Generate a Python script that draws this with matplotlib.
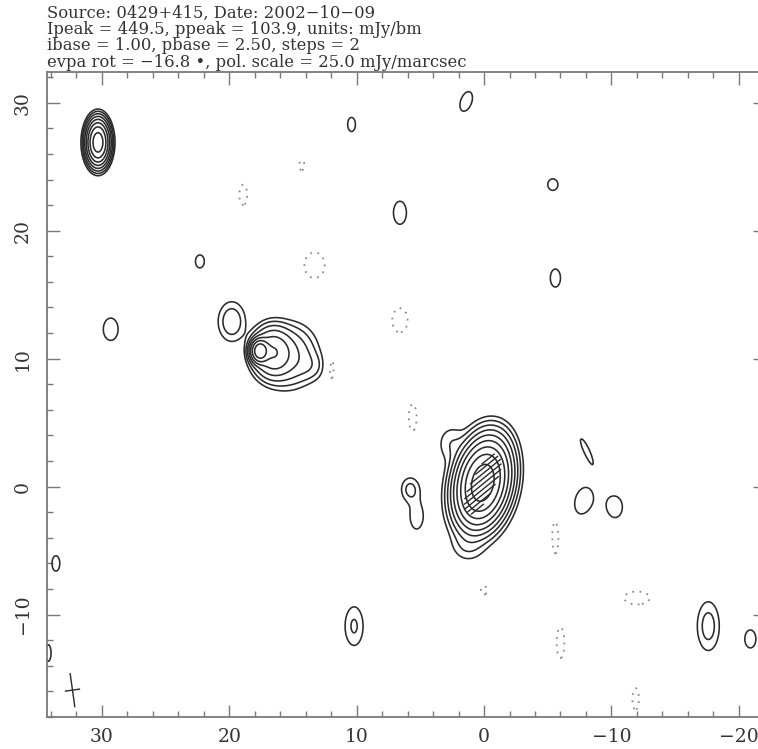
import numpy as np
import matplotlib
matplotlib.use("Agg")
import matplotlib.pyplot as plt
from matplotlib.ticker import MultipleLocator

# header lines written above the map
header = [
    "Source: 0429+415, Date: 2002\u221210\u221209",
    "Ipeak = 449.5, ppeak = 103.9, units: mJy/bm",
    "ibase = 1.00, pbase = 2.50, steps = 2",
    "evpa rot = \u221216.8 \u2022, pol. scale = 25.0 mJy/marcsec",
]

# contour levels in mJy/beam: ibase * steps**k, plus the first negative one
pos_levels = [1, 2, 4, 8, 16, 32, 64, 128, 256]
neg_levels = [-1]

# clean components: offset x (mas), offset y (mas), amplitude (mJy/bm),
# sigma along x, sigma along y (mas), rotation (deg)
comp_x = [0.1, 0.2, 2.6, -0.6, 1.3,                     # core region
          5.8, 5.3,                                     # knot east of core
          17.6, 16.6, 15.2, 13.6, 19.8,                 # north-east jet knot
          30.3, 29.3,                                   # far north-east knot
          10.4, 1.4, 6.6, -5.4, -5.6, 22.3, -8.0, -7.8, -10.3,
          10.2, -17.6, -20.9, 33.6, 34.2]
comp_y = [0.3, 0.0, 3.4, 3.6, -4.6,
          -0.2, -2.3,
          10.6, 10.5, 10.2, 9.4, 12.9,
          26.9, 12.3,
          28.3, 30.1, 21.4, 23.6, 16.3, 17.6, 2.9, -1.1, -1.6,
          -10.9, -10.9, -11.9, -6.0, -13.0]
comp_amp = [420, 3.0, 1.6, 1.5, 1.5,
            2.4, 1.5,
            110, 30, 8, 2.0, 3.3,
            200, 1.3,
            1.3, 1.3, 1.3, 1.3, 1.3, 1.3, 1.2, 1.3, 1.3,
            2.2, 2.7, 1.3, 1.3, 1.3]
comp_sx = [0.85, 1.6, 0.7, 0.9, 0.8,
           0.5, 0.55,
           0.35, 0.8, 1.1, 0.7, 0.69,
           0.41, 0.8,
           0.42, 0.6, 0.7, 0.55, 0.55, 0.48, 0.35, 0.9, 0.76,
           0.56, 0.61, 0.6, 0.42, 0.3]
comp_sy = [1.45, 2.6, 0.9, 0.9, 0.8,
           0.65, 1.1,
           0.45, 1.0, 1.3, 0.7, 1.0,
           0.8, 1.2,
           0.76, 1.1, 1.24, 0.62, 0.97, 0.7, 1.5, 1.45, 1.1,
           1.2, 1.35, 0.97, 0.83, 0.9]
comp_pa = [12, 8, 0, 0, 0,
           0, 0,
           0, 0, 10, 20, 0,
           0, 0,
           0, 20, 0, 0, 0, 0, -25, 15, 0,
           0, 0, 0, 0, 0]

# negative residual patches (x, y, amplitude, sigma x, sigma y)
neg_x = [18.9, 14.3, 13.3, 12.0, 6.6, 5.6, -5.6, 0.0, -12.0, -6.0, -11.9]
neg_y = [22.8, 25.1, 17.3, 9.3, 13.0, 5.4, -3.9, -8.1, -8.7, -12.2, -16.6]
neg_amp = [-1.3] * 11
neg_sx = [0.42, 0.28, 1.1, 0.35, 0.83, 0.42, 0.35, 0.35, 1.38, 0.42, 0.35]
neg_sy = [1.1, 0.55, 1.38, 1.45, 1.3, 1.45, 1.86, 0.48, 0.7, 1.66, 1.17]

# polarisation vectors on the core: centre x, centre y, length (mas)
vec_x = [0.52, 0.41, 0.31, 0.2, 0.1, 0.0, -0.11, -0.21, -0.32]
vec_y = [-1.76, -1.27, -0.78, -0.29, 0.2, 0.69, 1.18, 1.67, 2.16]
vec_len = [1.2, 2.2, 3.0, 3.4, 3.6, 3.4, 3.0, 2.2, 1.2]
evpa_deg = 51.0  # angle from north, towards decreasing RA

# restoring beam drawn as a cross (major, minor in mas, pa in deg)
beam_pos = (32.3, -15.9)
beam_axes = (2.6, 1.1)
beam_pa = -8.0

xlim = (34.3, -22.05)
ylim = (-18.0, 32.4)

xg = np.linspace(xlim[1] - 1, xlim[0] + 1, 800)
yg = np.linspace(ylim[0] - 1, ylim[1] + 1, 800)
X, Y = np.meshgrid(xg, yg)


def gauss(x0, y0, amp, sx, sy, pa=0.0):
    t = np.deg2rad(pa)
    dx, dy = X - x0, Y - y0
    u = dx * np.cos(t) + dy * np.sin(t)
    v = -dx * np.sin(t) + dy * np.cos(t)
    return amp * np.exp(-(u ** 2 / (2 * sx ** 2) + v ** 2 / (2 * sy ** 2)))


Z = np.zeros_like(X)
for i in range(len(comp_x)):
    Z += gauss(comp_x[i], comp_y[i], comp_amp[i], comp_sx[i], comp_sy[i], comp_pa[i])
for i in range(len(neg_x)):
    Z += gauss(neg_x[i], neg_y[i], neg_amp[i], neg_sx[i], neg_sy[i])

plt.rcParams["font.family"] = ["DejaVu Serif"]
ink = "#2b2b2b"
frame = "#7a7a7a"

fig = plt.figure(figsize=(7.58, 7.49), dpi=100)
ax = fig.add_axes([47 / 758, 1 - 717 / 749, (765 - 47) / 758, (717 - 72) / 749])

ax.contour(X, Y, Z, levels=pos_levels, colors=ink, linewidths=1.15)
ax.contour(X, Y, Z, levels=neg_levels, colors="#8c8c8c", linewidths=1.3,
           linestyles=[(0, (1, 3))])

# polarisation vectors
a = np.deg2rad(evpa_deg)
ux, uy = -np.sin(a), np.cos(a)
for cx, cy, ln in zip(vec_x, vec_y, vec_len):
    ax.plot([cx - ux * ln / 2, cx + ux * ln / 2],
            [cy - uy * ln / 2, cy + uy * ln / 2], color=ink, lw=1.0)

# beam cross
b = np.deg2rad(beam_pa)
mx, my = -np.sin(b), np.cos(b)
ax.plot([beam_pos[0] - mx * beam_axes[0] / 2, beam_pos[0] + mx * beam_axes[0] / 2],
        [beam_pos[1] - my * beam_axes[0] / 2, beam_pos[1] + my * beam_axes[0] / 2],
        color=ink, lw=1.0)
ax.plot([beam_pos[0] - my * beam_axes[1] / 2, beam_pos[0] + my * beam_axes[1] / 2],
        [beam_pos[1] + mx * beam_axes[1] / 2, beam_pos[1] - mx * beam_axes[1] / 2],
        color=ink, lw=1.0)

ax.set_xlim(*xlim)
ax.set_ylim(*ylim)
ax.xaxis.set_major_locator(MultipleLocator(10))
ax.xaxis.set_minor_locator(MultipleLocator(2))
ax.yaxis.set_major_locator(MultipleLocator(10))
ax.yaxis.set_minor_locator(MultipleLocator(2))
ax.tick_params(which="both", direction="in", top=True, right=True,
               color=frame, width=1.0, labelsize=13.5, labelcolor="#333333")
ax.tick_params(which="major", length=9)
ax.tick_params(which="minor", length=4)
ax.tick_params(axis="x", pad=8)
ax.tick_params(axis="y", pad=11)
for lab in ax.get_yticklabels():
    lab.set_rotation(90)
    lab.set_va("center")
for sp in ax.spines.values():
    sp.set_color(frame)
    sp.set_linewidth(1.3)

for i, line in enumerate(header):
    fig.text(47 / 758, 1 - (13 + 16.5 * i) / 749, line, fontsize=11.8,
             color="#333333", va="center", ha="left")

fig.savefig("out.png", dpi=100, facecolor="white")
